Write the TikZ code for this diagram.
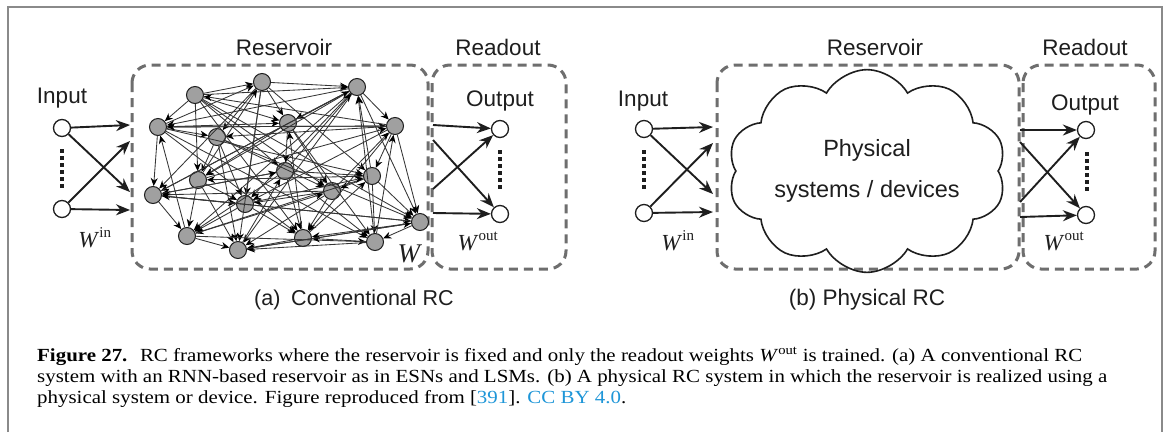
\documentclass[tikz,border=0pt]{standalone}
\usepackage{graphicx}
\usepackage{fontspec}
\setmainfont{Liberation Serif}
\newfontfamily\sansf{Liberation Sans}
\usetikzlibrary{arrows.meta,shapes.symbols}
\definecolor{framegray}{HTML}{8A8A8A}
\definecolor{boxgray}{HTML}{6E6E6E}
\definecolor{nodegray}{HTML}{A0A0A0}
\definecolor{ink}{HTML}{1E1E1E}
\definecolor{edgegray}{HTML}{353535}
\definecolor{linkblue}{HTML}{1E96D8}
\newsavebox\capboxA
\newlength\capwA
\newcommand\capLineA{\textbf{Figure 27.}\hspace{0.6em}RC frameworks where the reservoir is fixed and only the readout weights \textit{W}\textsuperscript{out} is trained. (a) A conventional RC}
\newcommand\capLineB{system with an RNN-based reservoir as in ESNs and LSMs. (b) A physical RC system in which the reservoir is realized using a}
\newcommand\capLineC{physical system or device. Figure reproduced from [{\color{linkblue}391}]. {\color{linkblue}CC BY 4.0}.}
\AtBeginDocument{%
  \sbox\capboxA{\fontsize{18.5}{21}\selectfont\capLineA}%
  \setlength\capwA{\wd\capboxA}%
  \pgfmathsetmacro\capsx{1045/\capwA}%
  \xdef\capsx{\capsx}}
\tikzset{
 lbl/.style={font=\sansf\fontsize{22.5}{26}\selectfont, text=ink, inner sep=0pt, anchor=base},
 wlbl/.style={font=\fontsize{23}{26}\selectfont, text=ink, inner sep=0pt, anchor=base},
 dbox/.style={draw=boxgray, line width=3pt, dash pattern=on 9pt off 6pt, rounded corners=18pt},
 io/.style={circle, draw=ink, fill=white, line width=1.3pt, minimum size=17pt, inner sep=0pt},
 rn/.style={circle, draw=ink, fill=nodegray, line width=1pt, minimum size=17pt, inner sep=0pt},
 bigarrow/.style={draw=ink, line width=1.9pt, -{Stealth[length=14pt,width=11pt]}},
 edge/.style={draw=edgegray, line width=0.85pt, -{Stealth[length=8pt,width=7pt,color=black]}},
 dots/.style={draw=ink, line width=4pt, dash pattern=on 3.6pt off 3.4pt},
 captext/.style={font=\fontsize{18.5}{21}\selectfont, inner sep=0pt, anchor=base west, text=black},
}
\begin{document}
\begin{tikzpicture}[x=1pt,y=-1pt]
\useasboundingbox (0,0) rectangle (1170,432);
\fill[white] (0,0) rectangle (1170,432);
% outer frame
\draw[framegray, line width=2pt] (8.3,432) -- (8.3,7.3) -- (1162,7.3) -- (1162,432);

% ================= (a) conventional RC =================
\node[lbl] (resA) at (284,55) {Reservoir};
\node[lbl] (rdA) at (498,55) {Readout};
\node[lbl] (inpA) at (62,103) {Input};
\node[lbl] (outpA) at (500,106) {Output};
\draw[dbox] (132,65) rectangle (428,269);
\draw[dbox] (432,65) rectangle (566,269);

\node[io] (inA1) at (62,128) {};
\node[io] (inA2) at (62,209) {};
\coordinate (ea1) at (130,125);
\coordinate (ea2) at (130,141);
\coordinate (ea3) at (130,192);
\coordinate (ea4) at (130,210);
\draw[bigarrow] (inA1) -- (ea1);
\draw[bigarrow] (inA1) -- (ea3);
\draw[bigarrow] (inA2) -- (ea2);
\draw[bigarrow] (inA2) -- (ea4);
\coordinate (dA1) at (62,149);
\coordinate (dA2) at (62,188);
\draw[dots] (dA1) -- (dA2);
\node[wlbl] (winA) at (95,247) {\textit{W}\textsuperscript{\fontsize{15}{15}\selectfont in}};

\node[io] (outA1) at (500,129) {};
\node[io] (outA2) at (500,214) {};
\coordinate (oa1) at (433,125);
\coordinate (oa2) at (433,140);
\coordinate (oa3) at (433,189);
\coordinate (oa4) at (433,213);
\draw[bigarrow] (oa1) -- (outA1);
\draw[bigarrow] (oa2) -- (outA2);
\draw[bigarrow] (oa3) -- (outA1);
\draw[bigarrow] (oa4) -- (outA2);
\coordinate (dA3) at (500,150);
\coordinate (dA4) at (500,189);
\draw[dots] (dA3) -- (dA4);
\node[wlbl] (woutA) at (478,250) {\textit{W}\textsuperscript{\fontsize{15}{15}\selectfont out}};
\node[wlbl, font=\fontsize{27}{30}\selectfont] (wA) at (410,262) {\textit{W}};

% reservoir nodes
\foreach \n/\x/\y in {1/195/95, 2/262/82, 3/357/87, 4/158/127, 5/288/123, 6/395/126,
  7/217/137, 8/285/171, 9/198/180, 10/372/176, 11/153/195, 12/332/191,
  13/245/204, 14/420/222, 15/187/236, 16/303/238, 17/375/242, 18/238/250}
  \node[rn] (r\n) at (\x,\y) {};
\foreach \a/\b in {1/2,1/4,1/5,1/8,1/12,1/14,1/16,1/9,1/3,
  2/3,2/7,2/10,2/13,2/18,2/11,2/5,
  3/6,3/5,3/9,3/11,3/15,3/18,3/13,3/4,3/14,
  4/11,4/2,4/5,4/10,4/17,4/16,4/7,4/6,
  5/8,5/12,5/17,5/9,
  6/14,6/10,6/4,6/7,6/13,6/16,6/1,
  7/13,7/12,7/18,7/14,7/9,
  8/16,8/17,8/11,8/15,8/3,8/10,
  9/18,9/13,9/6,9/2,9/15,
  10/12,10/17,10/9,10/15,10/3,10/14,
  11/15,11/13,11/14,11/8,11/3,
  12/16,12/13,12/11,12/6,12/18,
  13/16,13/15,13/10,
  14/17,14/16,14/18,14/11,
  15/18,15/17,15/12,15/4,
  16/18,16/5,16/10,
  17/18,17/3,17/6,17/16,
  18/8,18/14}
  \draw[edge] (r\a) -- (r\b);

\node[lbl, font=\sansf\fontsize{21.5}{26}\selectfont] (capA) at (354,305) {(a)\hspace{0.5em}Conventional RC};

% ================= (b) physical RC =================
\node[lbl] (resB) at (875,55) {Reservoir};
\node[lbl] (rdB) at (1085,55) {Readout};
\node[lbl] (inpB) at (643,106) {Input};
\node[lbl] (outpB) at (1085,110) {Output};
\draw[dbox] (717,65) rectangle (1019,269);
\draw[dbox] (1023,65) rectangle (1155,269);

\node[io] (inB1) at (644,129) {};
\node[io] (inB2) at (644,213) {};
\coordinate (eb1) at (713,127);
\coordinate (eb2) at (713,143);
\coordinate (eb3) at (713,194);
\coordinate (eb4) at (713,212);
\draw[bigarrow] (inB1) -- (eb1);
\draw[bigarrow] (inB1) -- (eb3);
\draw[bigarrow] (inB2) -- (eb2);
\draw[bigarrow] (inB2) -- (eb4);
\coordinate (dB1) at (644,150);
\coordinate (dB2) at (644,190);
\draw[dots] (dB1) -- (dB2);
\node[wlbl] (winB) at (678,250) {\textit{W}\textsuperscript{\fontsize{15}{15}\selectfont in}};

\node[cloud, draw=ink, line width=1.6pt, cloud puffs=10, cloud puff arc=120, aspect=1.6,
  minimum width=272pt, minimum height=172pt, inner sep=0pt,
  font=\sansf\fontsize{23.5}{41}\selectfont, text=ink, align=center]
  (cloudB) at (867,171) {Physical\\systems / devices};

\node[io] (outB1) at (1086,130) {};
\node[io] (outB2) at (1086,215) {};
\coordinate (ob1) at (1020,130);
\coordinate (ob2) at (1020,142);
\coordinate (ob3) at (1020,202);
\coordinate (ob4) at (1020,217);
\draw[bigarrow] (ob1) -- (outB1);
\draw[bigarrow] (ob2) -- (outB2);
\draw[bigarrow] (ob3) -- (outB1);
\draw[bigarrow] (ob4) -- (outB2);
\coordinate (dB3) at (1087,152);
\coordinate (dB4) at (1087,192);
\draw[dots] (dB3) -- (dB4);
\node[wlbl] (woutB) at (1064,250) {\textit{W}\textsuperscript{\fontsize{15}{15}\selectfont out}};

\node[lbl] (capB) at (867,305) {(b) Physical RC};

% ================= caption =================
\node[captext] (cap1) at (37,361) {\scalebox{\capsx}[1]{\capLineA}};
\node[captext] (cap2) at (37,382.5) {\scalebox{\capsx}[1]{\capLineB}};
\node[captext] (cap3) at (37,403.5) {\scalebox{\capsx}[1]{\capLineC}};
\end{tikzpicture}
\end{document}
